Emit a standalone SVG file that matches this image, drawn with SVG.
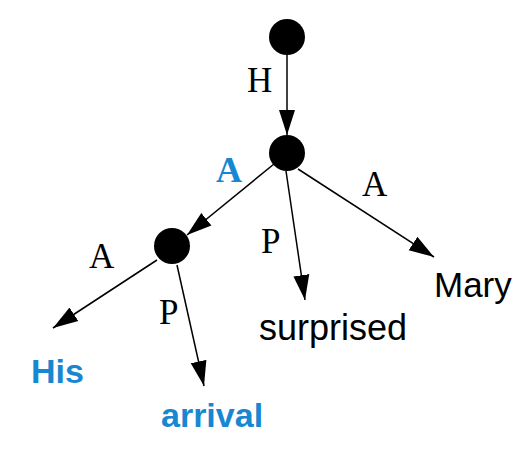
<svg xmlns="http://www.w3.org/2000/svg" width="532" height="457" viewBox="0 0 532 457">
<style>
.node{fill:#000}
.edge{stroke:#000;stroke-width:1.5;fill:none;marker-end:url(#arr)}
.lbl{font-family:"Liberation Serif",serif;font-size:35px;fill:#000}
.lblb{font-family:"Liberation Serif",serif;font-size:36px;font-weight:bold;fill:#1787d2}
.word{font-family:"Liberation Sans",sans-serif;font-size:35px;fill:#000}
.wordb{font-family:"Liberation Sans",sans-serif;font-size:34px;font-weight:bold;fill:#1787d2}
</style>
<defs>
<marker id="arr" markerUnits="userSpaceOnUse" markerWidth="26" markerHeight="18" refX="25" refY="8" orient="auto" viewBox="0 0 26 16">
<path d="M0,0 L25,8 L0,16 z" fill="#000"/>
</marker>
</defs>
<rect width="532" height="457" fill="#fff"/>
<g id="connectors">
<line class="edge" x1="287" y1="55" x2="287" y2="135"/>
<line class="edge" x1="274" y1="164" x2="187" y2="235"/>
<line class="edge" x1="157" y1="260" x2="53" y2="328"/>
<line class="edge" x1="177" y1="265" x2="204" y2="386"/>
<line class="edge" x1="286" y1="171" x2="305" y2="300"/>
<line class="edge" x1="298" y1="169" x2="434" y2="257"/>
</g>
<g id="edge-labels">
<text class="lbl" x="247" y="92">H</text>
<text class="lblb" x="216" y="182">A</text>
<text class="lbl" x="362" y="196">A</text>
<text class="lbl" x="89" y="268">A</text>
<text class="lbl" x="261" y="253">P</text>
<text class="lbl" x="159" y="324">P</text>
</g>
<g id="n-root"><circle class="node" cx="287" cy="37" r="18"/></g>
<g id="n-mid"><circle class="node" cx="287" cy="153" r="18"/></g>
<g id="n-left"><circle class="node" cx="172" cy="246" r="18"/></g>
<g id="n-his"><text class="wordb" x="31" y="383">His</text></g>
<g id="n-arrival"><text class="wordb" x="161" y="427">arrival</text></g>
<g id="n-surprised"><text class="word" x="259" y="340" style="font-size:36px">surprised</text></g>
<g id="n-mary"><text class="word" x="434" y="297">Mary</text></g>
</svg>
